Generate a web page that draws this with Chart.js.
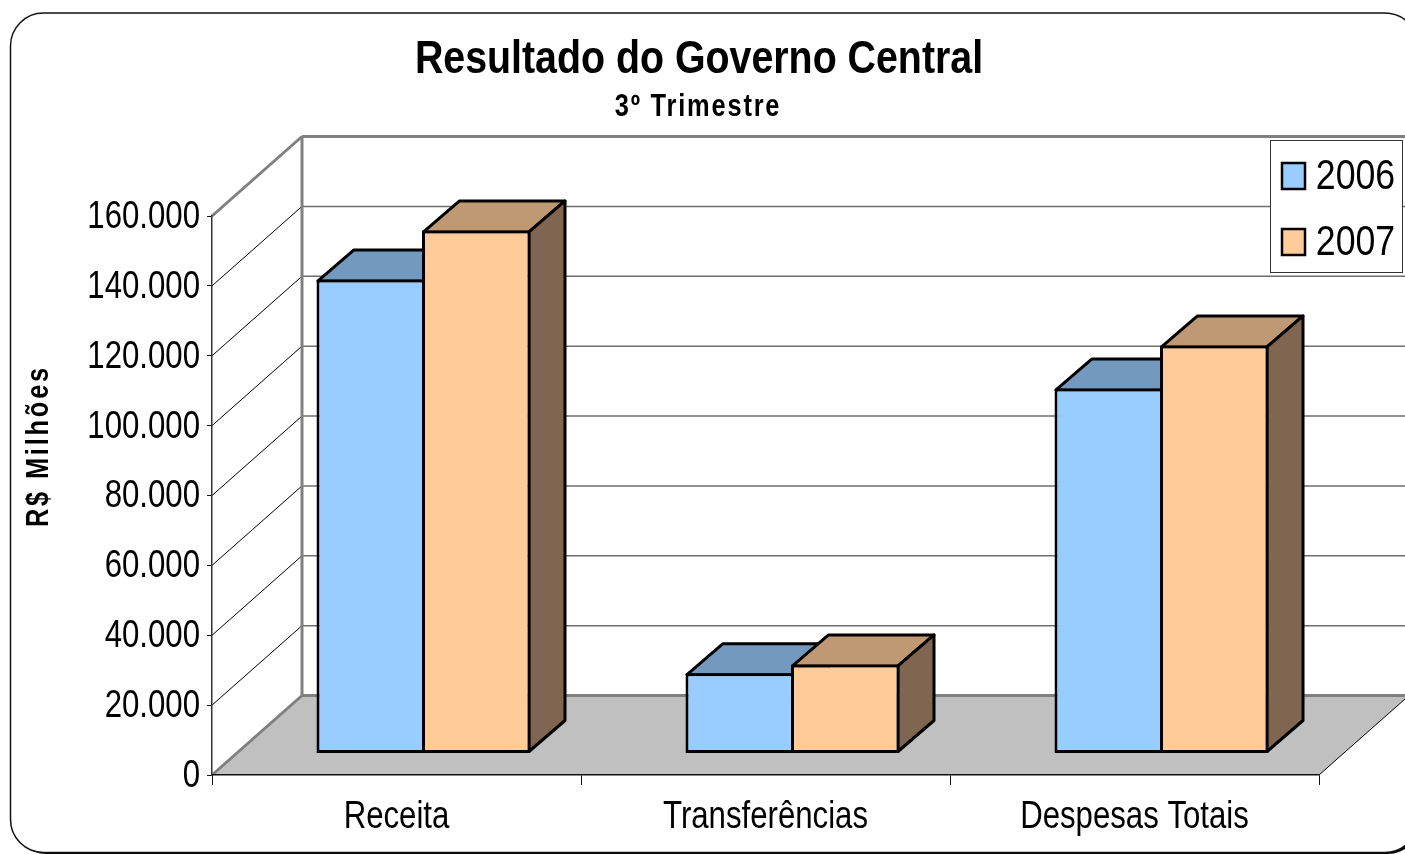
<!DOCTYPE html>
<html lang="pt-BR">
<head>
<meta charset="utf-8">
<title>Resultado do Governo Central</title>
<script src="https://cdn.jsdelivr.net/npm/chart.js@4"></script>
<style>
  html, body { margin: 0; background: #fff; overflow: hidden; }
  canvas { display: block; }
</style>
</head>
<body>
<canvas id="chart" width="1405" height="854"></canvas>
<script>
const categories = ["Receita", "Transferências", "Despesas Totais"];
const seriesNames = ["2006", "2007"];
const values2006 = [135700, 23000, 104500];
const values2007 = [149700, 25500, 116800];
const frontColors = ["#99ccff", "#ffcc99"];
const topColors = ["#7399bf", "#bf9973"];
const sideColors = ["#4d6680", "#806650"];
const yTickLabels = ["0", "20.000", "40.000", "60.000", "80.000", "100.000", "120.000", "140.000", "160.000"];
const titleText = "Resultado do Governo Central";
const subtitleText = "3º Trimestre";
const yTitleText = "R$ Milhões";

const SANS = "'Liberation Sans', Arial, sans-serif";

// depth of the walls and of the bars
const WALL_DX = 90, WALL_DY = 79.5;
const BAR_SHIFT_X = 27, BAR_SHIFT_Y = 21.5;
const BAR_DX = 36, BAR_DY = 31;

// no narrow font is installed, so all text is squeezed sideways on the way out
const canvas = document.getElementById("chart");
const rawCtx = canvas.getContext("2d");
const rawFillText = rawCtx.fillText;
let textScaleX = 0.82;
rawCtx.fillText = function (text, x, y) {
  this.save();
  this.translate(x, y + 1.5);
  this.scale(textScaleX, 1);
  rawFillText.call(this, text, 0, 0);
  this.restore();
};

function line(ctx, x1, y1, x2, y2, color, width) {
  ctx.strokeStyle = color;
  ctx.lineWidth = width;
  ctx.beginPath();
  ctx.moveTo(x1, y1);
  ctx.lineTo(x2, y2);
  ctx.stroke();
}

function poly(ctx, pts, fill) {
  ctx.beginPath();
  pts.forEach((p, i) => i ? ctx.lineTo(p[0], p[1]) : ctx.moveTo(p[0], p[1]));
  ctx.closePath();
  ctx.fillStyle = fill;
  ctx.fill();
  ctx.stroke();
}

function drawText(ctx, text, x, y, font, squeeze, spacing) {
  ctx.font = font;
  ctx.letterSpacing = spacing || "0px";
  ctx.fillStyle = "#000";
  ctx.textAlign = "center";
  ctx.textBaseline = "middle";
  textScaleX = squeeze;
  ctx.fillText(text, x, y);
  textScaleX = 0.82;
  ctx.letterSpacing = "0px";
}

// ── Frame, titles, walls and floor ───────────────────────────────────────

const backdrop = {
  id: "backdrop",
  beforeDraw(chart) {
    const { ctx, scales: { x, y } } = chart;
    const left = x.left, right = x.right, bottom = y.bottom;
    ctx.save();

    // rounded frame, the small shadow shows at the bottom corners
    ctx.fillStyle = "#000";
    ctx.beginPath();
    ctx.roundRect(13.5, 15, 1407, 839, 33);
    ctx.fill();
    ctx.fillStyle = "#fff";
    ctx.strokeStyle = "#111";
    ctx.lineWidth = 1.5;
    ctx.beginPath();
    ctx.roundRect(10.5, 13, 1407.5, 839.5, 33);
    ctx.fill();
    ctx.stroke();

    drawText(ctx, titleText, 699, 59, "bold 46px " + SANS, 0.855);
    drawText(ctx, subtitleText, 698, 106, "bold 31px " + SANS, 0.82, "2.2px");

    ctx.save();
    ctx.translate(39, 446);
    ctx.rotate(-Math.PI / 2);
    drawText(ctx, yTitleText, 0, -1.5, "bold 31px " + SANS, 0.82, "3.4px");
    ctx.restore();

    // floor
    ctx.fillStyle = "#c0c0c0";
    ctx.beginPath();
    ctx.moveTo(left, bottom);
    ctx.lineTo(right, bottom);
    ctx.lineTo(right + WALL_DX, bottom - WALL_DY);
    ctx.lineTo(left + WALL_DX, bottom - WALL_DY);
    ctx.closePath();
    ctx.fill();
    line(ctx, right, bottom, right + WALL_DX, bottom - WALL_DY, "#000", 1);

    // grid lines on the side and back walls
    y.ticks.forEach((t, i) => {
      const py = y.getPixelForValue(t.value);
      const last = i === 0 || i === y.ticks.length - 1;
      if (!last) line(ctx, left, py, left + WALL_DX, py - WALL_DY, "#000", 1);
      line(ctx, left + WALL_DX, py - WALL_DY, right + WALL_DX, py - WALL_DY, last ? "#808080" : "#6e6e6e", last ? 3 : 1.5);
      if (last) line(ctx, left, py, left + WALL_DX, py - WALL_DY, "#808080", 3);
    });
    line(ctx, left + WALL_DX, y.top - WALL_DY, left + WALL_DX, bottom - WALL_DY, "#808080", 3);
    ctx.restore();
  }
};

// ── Bars with top and side faces, 2007 goes over 2006 ────────────────────

const bars3d = {
  id: "bars3d",
  beforeDatasetsDraw(chart) {
    const ctx = chart.ctx;
    ctx.save();
    ctx.translate(BAR_SHIFT_X, -BAR_SHIFT_Y);
    ctx.strokeStyle = "#000";
    ctx.lineWidth = 3;
    ctx.lineJoin = "round";
    chart.data.datasets.forEach((ds, di) => {
      chart.getDatasetMeta(di).data.forEach(bar => {
        const p = bar.getProps(["x", "y", "base", "width"], true);
        const l = p.x - p.width / 2 + 1.5, r = p.x + p.width / 2 - 1.5;
        const t = p.y + 1.5, b = p.base - 1.5;
        poly(ctx, [[l, t], [r, t], [r + BAR_DX, t - BAR_DY], [l + BAR_DX, t - BAR_DY]], topColors[di]);
        poly(ctx, [[r, t], [r + BAR_DX, t - BAR_DY], [r + BAR_DX, b - BAR_DY], [r, b]], sideColors[di]);
        bar.draw(ctx);
      });
    });
    ctx.restore();
    return false;
  }
};

// ── Legend box ───────────────────────────────────────────────────────────

const legendBox = {
  id: "legendBox",
  afterDraw(chart) {
    const ctx = chart.ctx;
    ctx.save();
    ctx.fillStyle = "#fff";
    ctx.strokeStyle = "#333";
    ctx.lineWidth = 1;
    ctx.fillRect(1270, 140, 133, 132);
    ctx.strokeRect(1270.5, 140.5, 132, 132);
    seriesNames.forEach((name, i) => {
      const top = 163 + i * 66;
      ctx.fillStyle = frontColors[i];
      ctx.strokeStyle = "#000";
      ctx.lineWidth = 2.5;
      ctx.fillRect(1282, top, 23, 26);
      ctx.strokeRect(1282, top, 23, 26);
      drawText(ctx, name, 1355.5, top + 13, "42px " + SANS, 0.85);
    });
    ctx.restore();
  }
};

new Chart(canvas, {
  type: "bar",
  data: {
    labels: categories,
    datasets: [values2006, values2007].map((values, i) => ({
      label: seriesNames[i],
      data: values,
      backgroundColor: frontColors[i],
      borderColor: "#000",
      borderWidth: 3,
      borderSkipped: false,
      inflateAmount: 0,
      categoryPercentage: 0.572,
      barPercentage: 1.028,
    }))
  },
  options: {
    responsive: false,
    animation: false,
    layout: { padding: { top: 216, right: 86, bottom: 0, left: 0 } },
    plugins: { legend: { display: false }, title: { display: false }, tooltip: { enabled: false } },
    scales: {
      x: {
        afterFit: scale => { scale.height = 79; },
        grid: { drawOnChartArea: false, tickLength: 10, tickColor: "#111" },
        border: { color: "#111", width: 1.5 },
        ticks: {
          color: "#000",
          padding: 8,
          maxRotation: 0,
          autoSkip: false,
          font: { family: SANS, size: 38 },
        }
      },
      y: {
        min: 0,
        max: 160000,
        afterFit: scale => { scale.width = 212; },
        grid: { drawOnChartArea: false, tickLength: 5, tickColor: "#111" },
        border: { color: "#333", width: 1.5 },
        ticks: {
          stepSize: 20000,
          color: "#000",
          padding: 7,
          font: { family: SANS, size: 38 },
          callback: (value, i) => yTickLabels[i],
        }
      }
    }
  },
  plugins: [backdrop, bars3d, legendBox]
});
</script>
</body>
</html>
